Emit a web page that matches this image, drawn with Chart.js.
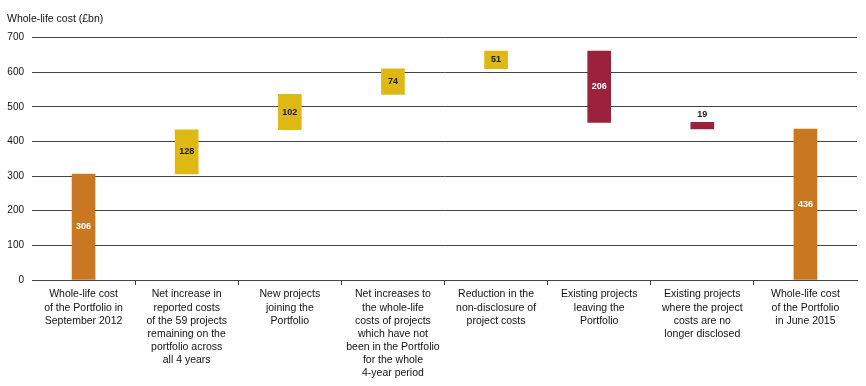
<!DOCTYPE html>
<html>
<head>
<meta charset="utf-8">
<script src="https://cdn.jsdelivr.net/npm/chart.js@4/dist/chart.umd.min.js"></script>
<style>
  html, body { margin: 0; padding: 0; background: #fff; }
  #wrap { width: 866px; height: 386px; position: relative; }
</style>
</head>
<body>
<div id="wrap"><canvas id="c" width="866" height="386"></canvas></div>
<script>
const categories = [
  ["Whole-life cost", "of the Portfolio in", "September 2012"],
  ["Net increase in", "reported costs", "of the 59 projects", "remaining on the", "portfolio across", "all 4 years"],
  ["New projects", "joining the", "Portfolio"],
  ["Net increases to", "the whole-life", "costs of projects", "which have not", "been in the Portfolio", "for the whole", "4-year period"],
  ["Reduction in the", "non-disclosure of", "project costs"],
  ["Existing projects", "leaving the", "Portfolio"],
  ["Existing projects", "where the project", "costs are no", "longer disclosed"],
  ["Whole-life cost", "of the Portfolio", "in June 2015"]
];
const startTotal = 306;
const changes = [128, 102, 74, 51, -206, -19];
const endTotal = 436;
const yTicks = [0, 100, 200, 300, 400, 500, 600, 700];

const COL_TOTAL = '#C97821';
const COL_UP = '#DEB913';
const COL_DOWN = '#9C213D';

// build floating ranges
const ranges = [[0, startTotal]];
const colors = [COL_TOTAL];
const labelsTxt = [String(startTotal)];
let run = startTotal;
changes.forEach(d => {
  const next = run + d;
  ranges.push([Math.min(run, next), Math.max(run, next)]);
  colors.push(d >= 0 ? COL_UP : COL_DOWN);
  labelsTxt.push(String(Math.abs(d)));
  run = next;
});
ranges.push([0, endTotal]);
colors.push(COL_TOTAL);
labelsTxt.push(String(endTotal));

const FONT = "'Liberation Sans', Arial, Helvetica, sans-serif";

const valueLabels = {
  id: 'valueLabels',
  afterDatasetsDraw(chart) {
    const ctx = chart.ctx;
    const meta = chart.getDatasetMeta(0);
    ctx.save();
    ctx.textAlign = 'center';
    ctx.textBaseline = 'middle';
    ctx.font = 'bold 9px ' + FONT;
    meta.data.forEach((el, i) => {
      const top = Math.min(el.y, el.base);
      const bot = Math.max(el.y, el.base);
      const h = bot - top;
      const col = colors[i];
      let y = (top + bot) / 2;
      let fill = col === COL_UP ? '#1a1a1a' : '#ffffff';
      if (h < 14) { y = top - 8; fill = '#1a1a1a'; }
      ctx.fillStyle = fill;
      ctx.fillText(labelsTxt[i], el.x, y);
    });
    ctx.restore();
  }
};

new Chart(document.getElementById('c'), {
  type: 'bar',
  data: {
    labels: categories,
    datasets: [{
      data: ranges,
      backgroundColor: colors,
      borderWidth: 0,
      barThickness: 23
    }]
  },
  options: {
    responsive: false,
    animation: false,
    devicePixelRatio: 1,
    layout: { padding: { left: 7, right: 9, top: 0, bottom: 0 } },
    plugins: {
      legend: { display: false },
      tooltip: { enabled: false },
      title: {
        display: true,
        text: 'Whole-life cost (£bn)',
        align: 'start',
        color: '#111',
        font: { family: FONT, size: 10.5, weight: 'normal' },
        padding: { top: 13, bottom: 12 }
      }
    },
    scales: {
      x: {
        grid: {
          display: true, drawOnChartArea: false, drawTicks: true, tickLength: 5, offset: true,
          color: c => (c.type !== 'tick' || c.index === 0) ? 'rgba(0,0,0,0)' : '#333'
        },
        border: { display: true, color: '#444' },
        ticks: {
          autoSkip: false, maxRotation: 0, minRotation: 0, padding: 3,
          color: '#111',
          font: { family: FONT, size: 10.5, lineHeight: 1.25 }
        },
        afterFit(s) { s.height = 106; }
      },
      y: {
        min: 0, max: 700,
        afterBuildTicks(s) { s.ticks = yTicks.map(v => ({ value: v })); },
        grid: { color: '#444', lineWidth: 1, drawTicks: false },
        border: { display: false },
        ticks: {
          padding: 8,
          color: '#111',
          font: { family: FONT, size: 10 }
        },
        afterFit(s) { s.width = 25; }
      }
    }
  },
  plugins: [valueLabels]
});
</script>
</body>
</html>
